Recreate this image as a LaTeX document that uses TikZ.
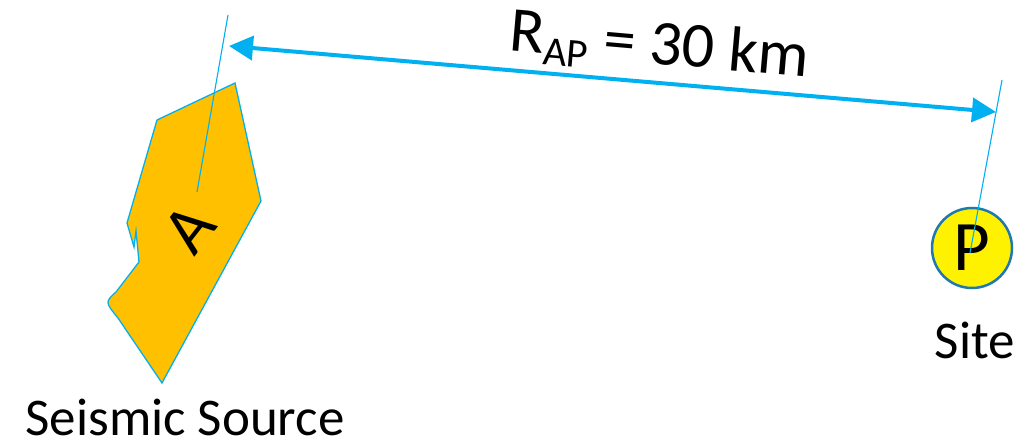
\documentclass[tikz,border=0pt]{standalone}
\usepackage{fontspec}
\setmainfont{Carlito}
\usetikzlibrary{arrows.meta,positioning}

\definecolor{seisfill}{HTML}{FFC000}
\definecolor{seisline}{HTML}{00B0F0}
\definecolor{siteline}{HTML}{1F78B0}

\begin{document}
\begin{tikzpicture}[x=1pt,y=-1pt]
\tikzset{
  source/.style={fill=seisfill,draw=seisline,line width=1.3pt,line join=miter},
  leader/.style={draw=seisline,line width=1.1pt},
  rangearrow/.style={{Triangle[length=24pt,width=24pt]}-{Triangle[length=24pt,width=24pt]},draw=seisline,line width=4pt},
  sitenode/.style={circle,fill=yellow,draw=siteline,line width=2.5pt,minimum size=80pt,inner sep=0pt,font=\fontsize{71}{80}\selectfont},
  caption/.style={font=\fontsize{53}{60}\selectfont,anchor=base,inner sep=0pt}
}
\useasboundingbox (0,0) rectangle (1030,443);
\path[source] (235,83) -- (261,201) -- (162,383) -- (118,318)
  .. controls (105,302) .. (116,292) -- (139,262) -- (136,231)
  -- (134,247) -- (127,223) -- (157,120) -- cycle;
\node[inner sep=0pt,rotate=52,font=\fontsize{68}{70}\selectfont] (n_A) at (189,229) {A};
\coordinate (n_Apt) at (197,192);
\coordinate (n_Atop) at (228,15);
\draw[leader] (n_Apt) -- (n_Atop);
\node[sitenode] (n_P) at (972,248) {P};
\coordinate (n_Ppt) at (970,253);
\coordinate (n_Ptop) at (1002,80);
\draw[leader] (n_Ppt) -- (n_Ptop);
\coordinate (n_arrL) at (229,46);
\coordinate (n_arrR) at (996,112);
\draw[rangearrow] (n_arrL) -- (n_arrR);
\node[caption,rotate=-5,font=\fontsize{64}{70}\selectfont] (n_R) at (658,64)
  {R\raisebox{-0.35ex}{\fontsize{41}{44}\selectfont AP} = 30 km};
\node[caption] (n_site) at (975,359) {Site};
\node[caption] (n_src) at (185,435) {Seismic Source};
\end{tikzpicture}
\end{document}
